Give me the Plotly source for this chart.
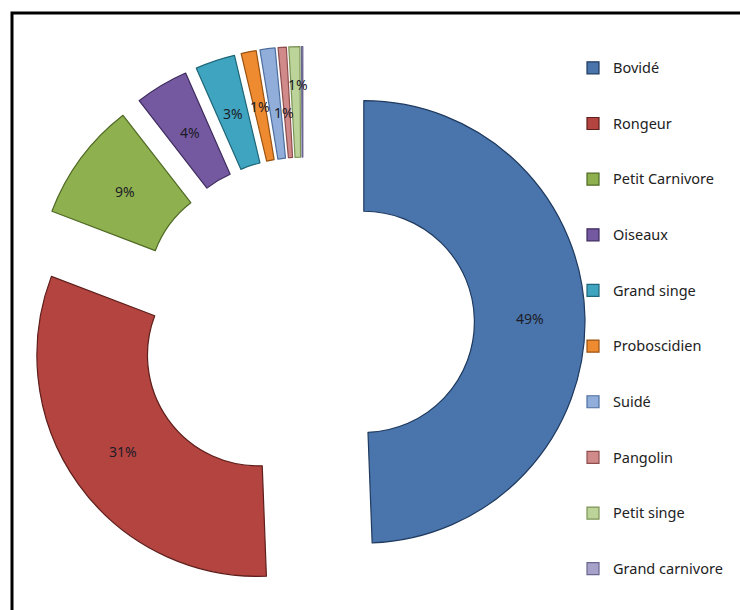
import math
import plotly.graph_objects as go

# Share of remains by animal group (percent)
categories = ["Bovidé", "Rongeur", "Petit Carnivore", "Oiseaux", "Grand singe",
              "Proboscidien", "Suidé", "Pangolin", "Petit singe", "Grand carnivore"]
shares = [49.4, 31.4, 8.7, 3.9, 2.9, 1.1, 1.1, 0.6, 0.8, 0.1]
show_label = [True, True, True, True, True, True, True, False, True, False]

fill_colors = ["#4A75AC", "#B4443F", "#8FB04E", "#7559A0", "#3FA4BF",
               "#EE8B30", "#91AEDA", "#D08A8A", "#BCD39A", "#A7A2C9"]
edge_colors = ["#1F3A5F", "#5E1E1B", "#4F6A24", "#3E2B5E", "#1E6678",
               "#9A5210", "#4D6E9E", "#8E4E4E", "#7C9457", "#6A6690"]
pulls = [0.275, 0.25, 0.25, 0.25, 0.25, 0.25, 0.25, 0.25, 0.25, 0.25]
# pixel nudges (dx, dy) for labels that would otherwise collide
label_nudge = [(0, 0), (0, 0), (0, 0), (0, 0), (0, 0),
               (0, 0), (9, 9), (0, 0), (2, -17), (0, 0)]

W, H = 740, 610
HOLE = 0.5
cx, cy, box = 303, 323, 564

# legend entries padded with blank lines to spread them down the right side
legend_names = [f"\u00a0<br><span style='font-size:14.5px'>{c}</span><br>\u00a0"
                for c in categories]

fig = go.Figure(go.Pie(
    labels=legend_names,
    values=shares,
    sort=False,
    direction="clockwise",
    rotation=0,
    hole=HOLE,
    pull=pulls,
    textinfo="none",
    marker=dict(colors=fill_colors, line=dict(color=edge_colors, width=1.2)),
    domain=dict(x=[(cx - box / 2) / W, (cx + box / 2) / W],
                y=[1 - (cy + box / 2) / H, 1 - (cy - box / 2) / H]),
    hoverinfo="skip",
))

# percentage labels sit in the middle of each (pulled) ring segment
radius = box / (2 * (1 + max(pulls)))
total = sum(shares)
annotations = []
cum = 0.0
for share, pull, show, (ndx, ndy) in zip(shares, pulls, show_label, label_nudge):
    mid = (cum + share / 2) / total * 2 * math.pi
    cum += share
    if not show:
        continue
    rho = radius * (pull + (1 + HOLE) / 2)
    px = cx + rho * math.sin(mid) + ndx
    py = cy - rho * math.cos(mid) + ndy
    annotations.append(dict(
        x=px / W, y=1 - py / H, xref="paper", yref="paper",
        text=f"{round(share / total * 100)}%", showarrow=False,
        font=dict(family="Noto Sans", size=14, color="#1c1c28"),
        xanchor="center", yanchor="middle",
    ))

fig.update_layout(
    width=W, height=H,
    margin=dict(l=0, r=0, t=0, b=0),
    paper_bgcolor="white",
    plot_bgcolor="white",
    showlegend=True,
    legend=dict(
        x=573 / W, y=1 - 35 / H, xanchor="left", yanchor="top",
        font=dict(family="Noto Sans", size=13.5, color="#222222"),
        valign="middle",
        bgcolor="rgba(0,0,0,0)",
    ),
    annotations=annotations,
    shapes=[dict(type="rect", xref="paper", yref="paper",
                 x0=12 / W, x1=1.02, y0=-0.02, y1=1 - 13 / H,
                 line=dict(color="black", width=3), fillcolor="rgba(0,0,0,0)")],
)

fig.write_html("out.html")
